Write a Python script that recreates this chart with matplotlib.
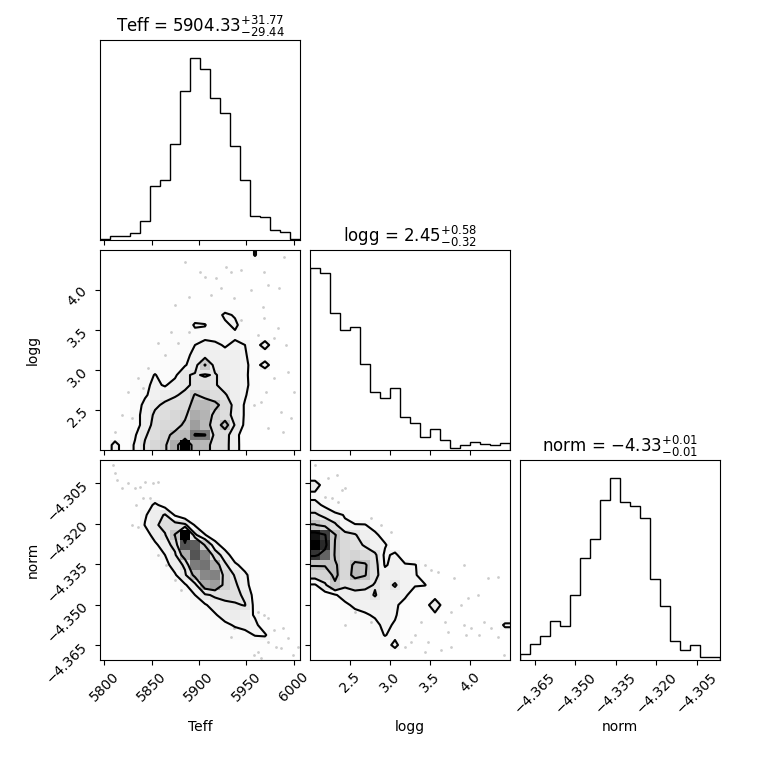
import matplotlib
matplotlib.use("Agg")
import matplotlib.pyplot as plt
import numpy as np
from matplotlib.colors import LinearSegmentedColormap, PowerNorm

labels = ["Teff", "logg", "norm"]
ranges = [(5795.5, 6006.7), (2.0, 4.495), (-4.3705, -4.2964)]
ticks = [[5800, 5850, 5900, 5950, 6000],
         [2.5, 3.0, 3.5, 4.0],
         [-4.365, -4.350, -4.335, -4.320, -4.305]]
titles = [r"Teff = $5904.33_{-29.44}^{+31.77}$",
          r"logg = $2.45_{-0.32}^{+0.58}$",
          r"norm = $-4.33_{-0.01}^{+0.01}$"]

# 1d histograms, 20 bins each
teff_hist = [2, 13, 13, 22, 56, 160, 178, 286, 446, 543, 510, 423, 378, 281, 178, 73, 70, 31, 23, 2]
logg_hist = [545, 532, 410, 360, 370, 257, 173, 155, 185, 98, 82, 38, 62, 30, 5, 14, 24, 18, 14, 21]
norm_hist = [17, 47, 72, 116, 101, 197, 308, 365, 482, 547, 476, 463, 428, 245, 161, 56, 29, 44, 10, 10]

# 2d histograms, rows listed from top to bottom
teff_logg_rows = [
    [0, 0, 0, 0, 0, 0, 0, 0, 1, 1, 1, 1, 1, 1, 1, 11, 1, 0, 0, 0],
    [0, 0, 0, 0, 0, 0, 0, 1, 1, 1, 2, 1, 2, 1, 2, 1, 1, 0, 0, 0],
    [0, 0, 0, 0, 0, 0, 1, 1, 1, 2, 2, 2, 2, 2, 1, 1, 1, 0, 0, 0],
    [0, 0, 0, 0, 0, 1, 1, 1, 2, 2, 3, 2, 3, 2, 2, 1, 1, 0, 0, 0],
    [0, 0, 0, 0, 0, 1, 1, 2, 2, 3, 3, 3, 3, 3, 2, 2, 1, 1, 0, 0],
    [0, 0, 0, 0, 1, 1, 2, 2, 3, 3, 4, 4, 3, 4, 3, 2, 1, 1, 0, 0],
    [0, 0, 0, 0, 1, 2, 2, 3, 3, 4, 5, 5, 12, 9, 4, 3, 2, 1, 0, 0],
    [0, 0, 0, 1, 2, 2, 3, 3, 3, 11.5, 10.5, 4, 8, 12, 5, 3, 2, 1, 1, 0],
    [0, 0, 0, 1, 2, 3, 3, 4, 5, 6, 7, 6, 6, 8, 5, 3, 2, 2, 1, 0],
    [0, 0, 1, 2, 3, 3, 4, 5, 6, 10, 13, 12, 9, 12, 10, 5, 15, 3, 1, 0],
    [0, 0, 1, 2, 3, 4, 5, 6, 8, 12, 15, 14, 13, 14, 11, 5, 3, 2, 1, 0],
    [0, 0, 1, 3, 4, 5, 6, 7, 9, 16, 33, 16, 15, 14, 12, 6, 14, 4, 1, 0],
    [0, 1, 2, 4, 6, 10.5, 6, 8, 19, 21, 19, 21, 16, 14, 12, 5, 2, 1, 0, 0],
    [0, 1, 2, 5, 8, 12, 9, 14, 18, 22, 24, 21, 16, 14, 12, 6, 3, 1, 0, 0],
    [0, 0, 2, 4, 9, 13, 16, 19, 22, 33, 28, 24, 21, 15, 11, 4, 2, 1, 0, 0],
    [0, 1, 2, 6, 12, 18, 22, 24, 25, 38, 40, 36, 26, 17, 9, 4, 2, 1, 0, 0],
    [0, 1, 3, 7, 13, 22, 24, 27, 29, 45, 42, 28, 24, 17, 9, 4, 2, 1, 0, 0],
    [0, 2, 3, 6, 14, 24, 26, 26, 35, 50, 40, 24, 38, 19, 8, 3, 2, 1, 0, 0],
    [1, 3, 4, 9, 19, 24, 28, 36, 40, 63.5, 63.5, 26, 24, 14, 4, 2, 1, 1, 0, 0],
    [2, 14, 4, 11, 21, 27, 30, 45, 100, 42, 40, 24, 23, 15, 3, 2, 1, 1, 0, 0],
]
teff_norm_rows = [
    [0, 2, 1, 0, 0, 0, 0, 0, 0, 0, 0, 0, 0, 0, 0, 0, 0, 0, 0, 0],
    [0, 2, 2, 1, 0, 0, 0, 0, 0, 0, 0, 0, 0, 0, 0, 0, 0, 0, 0, 0],
    [0, 1, 3, 2, 1, 0, 0, 0, 0, 0, 0, 0, 0, 0, 0, 0, 0, 0, 0, 0],
    [0, 0, 2, 3, 3, 2, 1, 0, 0, 0, 0, 0, 0, 0, 0, 0, 0, 0, 0, 0],
    [0, 0, 1, 2, 4, 12, 6, 2, 1, 0, 0, 0, 0, 0, 0, 0, 0, 0, 0, 0],
    [0, 0, 1, 2, 9, 15, 21, 9, 3, 1, 0, 0, 0, 0, 0, 0, 0, 0, 0, 0],
    [0, 0, 0, 1, 10.5, 18, 24, 24, 22, 9, 3, 1, 0, 0, 0, 0, 0, 0, 0, 0],
    [0, 0, 0, 1, 5, 14, 19, 36, 100, 22, 10.5, 4, 1, 0, 0, 0, 0, 0, 0, 0],
    [0, 0, 0, 0, 2, 8, 15, 24, 75, 72, 33, 14, 5, 1, 0, 0, 0, 0, 0, 0],
    [0, 0, 0, 0, 1, 5, 10, 18, 45, 75, 60, 26, 15, 4, 1, 0, 0, 0, 0, 0],
    [0, 0, 0, 0, 0, 3, 7, 14, 22, 62, 65, 45, 22, 12, 6, 1, 0, 0, 0, 0],
    [0, 0, 0, 0, 0, 1, 5, 9, 18, 40, 58, 60, 28, 19, 12, 4, 1, 0, 0, 0],
    [0, 0, 0, 0, 0, 0, 2, 5, 9, 16, 45, 50, 30, 22, 13, 5, 1, 0, 0, 0],
    [0, 0, 0, 0, 0, 0, 1, 3, 6, 10, 18, 22, 24, 23, 18, 6, 2, 0, 0, 0],
    [0, 0, 0, 0, 0, 0, 0, 2, 4, 7, 9, 14, 17, 19, 20.5, 7, 2, 1, 0, 0],
    [0, 0, 0, 0, 0, 0, 0, 1, 2, 4, 6, 9, 14, 16, 14, 9, 3, 1, 0, 0],
    [0, 0, 0, 0, 0, 0, 0, 0, 1, 3, 4, 6, 8, 11, 13, 12, 5, 2, 1, 0],
    [0, 0, 0, 0, 0, 0, 0, 0, 0, 1, 2, 4, 5, 6, 7, 10.5, 11, 3, 2, 1],
    [0, 0, 0, 0, 0, 0, 0, 0, 0, 0, 1, 2, 3, 3, 4, 4, 4, 3, 2, 1],
    [0, 0, 0, 0, 0, 0, 0, 0, 0, 0, 0, 1, 1, 2, 2, 3, 2, 2, 1, 1],
]
logg_norm_rows = [
    [1, 0, 0, 0, 0, 0, 0, 0, 0, 0, 0, 0, 0, 0, 0, 0, 0, 0, 0, 0],
    [2, 1, 0, 0, 0, 0, 0, 0, 0, 0, 0, 0, 0, 0, 0, 0, 0, 0, 0, 0],
    [16, 4, 2, 1, 0, 0, 0, 0, 0, 0, 0, 0, 0, 0, 0, 0, 0, 0, 0, 0],
    [7, 4, 2, 1, 0, 0, 0, 0, 0, 0, 0, 0, 0, 0, 0, 0, 0, 0, 0, 0],
    [13, 8, 4, 2, 1, 0, 0, 0, 0, 0, 0, 0, 0, 0, 0, 0, 0, 0, 0, 0],
    [22, 17, 12, 9.5, 5, 2, 1, 0, 0, 0, 0, 0, 0, 0, 0, 0, 0, 0, 0, 0],
    [36, 28, 22, 11, 10.5, 10.5, 6, 2, 1, 0, 0, 0, 0, 0, 0, 0, 0, 0, 0, 0],
    [95, 82, 36, 24, 21, 14, 12, 6, 2, 1, 0, 0, 0, 0, 0, 0, 0, 0, 0, 0],
    [100, 88, 34, 26, 23, 19, 13, 11, 4, 1, 0, 0, 0, 0, 0, 0, 0, 0, 0, 0],
    [85, 70, 33, 26, 28, 25, 22, 8, 12, 4, 1, 0, 0, 0, 0, 0, 0, 0, 0, 0],
    [36, 36, 37, 27, 38, 37, 24, 9, 13, 11, 10.5, 5, 1, 0, 0, 0, 0, 0, 0, 0],
    [26, 28, 38, 27, 40, 36, 23, 14, 14, 12, 11, 5, 1, 0, 0, 0, 0, 0, 0, 0],
    [9, 18, 33, 22, 25, 24, 19, 15, 21.5, 12, 11, 10.5, 3, 1, 0, 0, 0, 0, 0, 0],
    [4, 6, 9, 14, 16, 15, 21, 13, 14, 12, 4, 2, 6, 2, 1, 0, 0, 0, 0, 0],
    [2, 3, 5, 8, 12, 13, 14, 13, 12, 6, 3, 6, 16, 5, 2, 1, 0, 0, 0, 0],
    [1, 2, 3, 5, 7, 9, 11, 12, 11, 5, 3, 3, 8, 3, 2, 1, 1, 0, 0, 0],
    [0, 1, 2, 3, 4, 6, 8, 12, 9, 4, 2, 2, 2, 2, 1, 1, 1, 1, 2, 12],
    [0, 0, 1, 2, 3, 4, 6, 10.5, 7, 5, 3, 2, 1, 1, 1, 1, 1, 1, 1, 3],
    [0, 0, 0, 1, 2, 3, 4, 5, 13, 3, 2, 1, 1, 1, 0, 0, 1, 1, 0, 1],
    [0, 0, 0, 0, 1, 1, 2, 3, 3, 2, 2, 1, 1, 1, 0, 1, 0, 0, 1, 0],
]
teff_logg_levels = [10, 20, 32, 62]
teff_norm_levels = [10, 20, 35, 80]
logg_norm_levels = [10, 20, 35, 80]

# scattered samples outside the contours
tl_teff = [5884.9, 5900.7, 5906, 5918, 5928.8, 5934, 5944.6, 5969, 5972.6, 5985, 5990, 5874.4, 5890, 5913,
           5923.5, 5937.5, 5955, 5967.3, 5969, 5983, 5979.6, 5992, 5962, 5944.6, 5870.9, 5877.9, 5890,
           5856.9, 5835.8, 5825.3, 5841, 5818.3, 5828.8, 5835.8, 5979.6, 5993.7, 5970.9, 5986.6, 5997.2,
           5965.6, 5958.6, 5972.6, 5988.4, 6000.7, 5811.2, 5864, 5846]
tl_logg = [4.348, 4.223, 4.161, 4.14, 4.286, 4.223, 4.244, 4.223, 4.057, 4.016, 4.41, 3.808, 3.912, 3.932,
           4.016, 3.891, 3.995, 3.787, 3.641, 3.517, 3.392, 3.309, 3.434, 3.621, 3.475, 3.33, 3.475,
           3.33, 2.893, 2.727, 2.768, 2.436, 2.394, 2.27, 2.893, 2.976, 2.727, 2.478, 2.394,
           2.602, 2.56, 2.27, 2.228, 2.727, 2.228, 3.184, 3.018]
tn_teff = [5809.5, 5811.2, 5813, 5818.3, 5825.3, 5832.3, 5837.6, 5842.8, 5851.6, 5856.9, 5841, 5848.1,
           5834, 5828.8, 5835.8, 5856.9, 5865.6, 5874.4, 5881.4, 5930.5, 5941, 5951.6, 5962, 5969.1,
           5972.6, 5979.6, 5988.4, 5993.7, 5986.7, 5981.4, 5972.6, 5962.1, 5958.6, 5965.6, 5937.5,
           5934, 5998.9, 6004.2]
tn_norm = [-4.2983, -4.3013, -4.3038, -4.3069, -4.3050, -4.3069, -4.3063, -4.3044, -4.3050, -4.3044,
           -4.3106, -4.3106, -4.3131, -4.3205, -4.3211, -4.3316, -4.3353, -4.3409, -4.3446, -4.3514,
           -4.3551, -4.3563, -4.3526, -4.3538, -4.3551, -4.3594, -4.3588, -4.3625, -4.3662, -4.3656,
           -4.3637, -4.3674, -4.3687, -4.3699, -4.3588, -4.3619, -4.3687, -4.3656]
ln_logg = [2.062, 2.228, 2.331, 2.394, 2.435, 2.269, 2.186, 2.352, 2.766, 2.891, 3.015, 3.429, 3.512,
           3.595, 3.802, 3.926, 4.216, 4.34, 4.092, 3.967, 3.885, 3.76, 3.678, 3.719, 3.926, 4.009,
           4.175, 4.257, 4.34, 4.423, 3.388, 3.305, 3.263, 3.47, 3.429, 3.181, 2.683, 2.559, 2.435,
           2.766, 2.891, 3.636, 3.76, 3.947, 4.112]
ln_norm = [-4.2983, -4.3032, -4.3020, -4.3075, -4.3069, -4.3106, -4.3100, -4.3118, -4.3180, -4.3205,
           -4.3230, -4.3353, -4.3372, -4.3378, -4.3403, -4.3353, -4.3403, -4.3396, -4.3464, -4.3477,
           -4.3501, -4.3526, -4.3563, -4.3600, -4.3575, -4.3588, -4.3563, -4.3588, -4.3619, -4.3687,
           -4.3563, -4.3613, -4.3637, -4.3637, -4.3674, -4.3656, -4.3526, -4.3526, -4.3575, -4.3563,
           -4.3588, -4.3668, -4.3656, -4.3613, -4.3613]

shade_cmap = LinearSegmentedColormap.from_list("shade", [(0, 0, 0, 0), (0, 0, 0, 1)])
white_cmap = LinearSegmentedColormap.from_list("white_cmap", [(1, 1, 1), (1, 1, 1)], N=2)


def hist2d(ax, xr, yr, rows, levels, px, py):
    H = np.array(rows[::-1], dtype=float)
    ny, nx = H.shape
    X = np.linspace(xr[0], xr[1], nx + 1)
    Y = np.linspace(yr[0], yr[1], ny + 1)
    X1 = 0.5 * (X[1:] + X[:-1])
    Y1 = 0.5 * (Y[1:] + Y[:-1])

    # pad the grid so contours close at the edges
    H2 = H.min() + np.zeros((ny + 4, nx + 4))
    H2[2:-2, 2:-2] = H
    H2[2:-2, 1] = H[:, 0]
    H2[2:-2, -2] = H[:, -1]
    H2[1, 2:-2] = H[0]
    H2[-2, 2:-2] = H[-1]
    H2[1, 1] = H[0, 0]
    H2[1, -2] = H[0, -1]
    H2[-2, 1] = H[-1, 0]
    H2[-2, -2] = H[-1, -1]
    dx = X1[1] - X1[0]
    dy = Y1[1] - Y1[0]
    X2 = np.concatenate([X1[0] + np.array([-2, -1]) * dx, X1, X1[-1] + np.array([1, 2]) * dx])
    Y2 = np.concatenate([Y1[0] + np.array([-2, -1]) * dy, Y1, Y1[-1] + np.array([1, 2]) * dy])

    ax.plot(px, py, "o", color="k", ms=2, mec="none", alpha=0.2, zorder=-1, rasterized=True)
    ax.contourf(X2, Y2, H2, [levels[0], H.max()], cmap=white_cmap, antialiased=False)
    ax.pcolor(X, Y, H / H.max(), cmap=shade_cmap, norm=PowerNorm(1.4, vmin=0, vmax=1))
    ax.contour(X2, Y2, H2, levels, colors="k", linewidths=1.5)
    ax.set_xlim(xr)
    ax.set_ylim(yr)


fig, axes = plt.subplots(3, 3, figsize=(7.6, 7.6))
fig.subplots_adjust(left=1 / 7.6, bottom=1 / 7.6, right=7.2 / 7.6, top=7.2 / 7.6,
                    wspace=0.05, hspace=0.05)

hists = [teff_hist, logg_hist, norm_hist]
for i in range(3):
    ax = axes[i, i]
    edges = np.linspace(ranges[i][0], ranges[i][1], len(hists[i]) + 1)
    ax.hist(edges[:-1], bins=edges, weights=hists[i], histtype="step", color="k")
    ax.set_xlim(ranges[i])
    ax.set_ylim(0, 1.1 * max(hists[i]))
    ax.set_yticks([])
    ax.set_title(titles[i], fontsize=12)

hist2d(axes[1, 0], ranges[0], ranges[1], teff_logg_rows, teff_logg_levels, tl_teff, tl_logg)
hist2d(axes[2, 0], ranges[0], ranges[2], teff_norm_rows, teff_norm_levels, tn_teff, tn_norm)
hist2d(axes[2, 1], ranges[1], ranges[2], logg_norm_rows, logg_norm_levels, ln_logg, ln_norm)

for i in range(3):
    for j in range(3):
        ax = axes[i, j]
        if j > i:
            ax.set_frame_on(False)
            ax.set_xticks([])
            ax.set_yticks([])
            continue
        ax.set_xticks(ticks[j])
        if i < 2:
            ax.set_xticklabels([])
        else:
            ax.ticklabel_format(useOffset=False, axis="x")
            plt.setp(ax.get_xticklabels(), rotation=45)
            ax.set_xlabel(labels[j])
            ax.xaxis.set_label_coords(0.5, -0.3)
        if j < i:
            ax.set_yticks(ticks[i])
            if j > 0:
                ax.set_yticklabels([])
            else:
                ax.ticklabel_format(useOffset=False, axis="y")
                plt.setp(ax.get_yticklabels(), rotation=45)
                ax.set_ylabel(labels[i])
                ax.yaxis.set_label_coords(-0.3, 0.5)

plt.savefig("out.png", dpi=100)
